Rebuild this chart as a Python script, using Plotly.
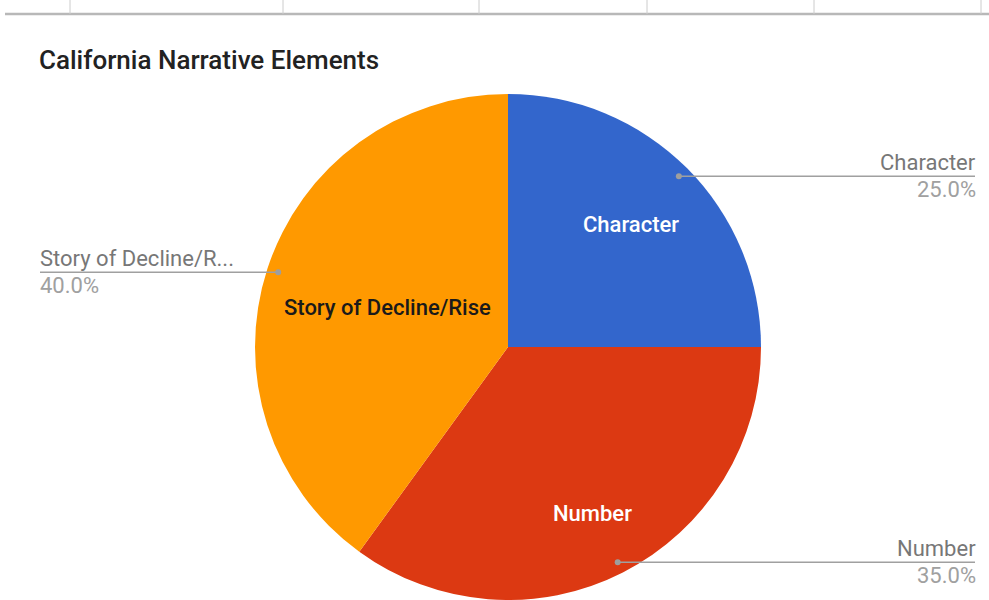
import math
import plotly.graph_objects as go

# ---- data ----
labels = ["Character", "Number", "Story of Decline/Rise"]
short_labels = ["Character", "Number", "Story of Decline/R..."]
values = [25, 35, 40]
colors = ["#3366cc", "#dc3912", "#ff9900"]
inside_text_colors = ["#ffffff", "#ffffff", "#1a1a1a"]
title = "California Narrative Elements"

W, H = 989, 600
CX, CY, R = 508, 347, 253  # pie centre / radius in pixels
FONT = "Roboto, Arial, sans-serif"
INSIDE_R = [0.685, 0.74, 0.50]  # radial position of inside labels (fraction of radius)

def px(x):
    return x / W

def py(y):
    return 1 - y / H

fig = go.Figure()
fig.add_trace(go.Pie(
    labels=labels,
    values=values,
    sort=False,
    direction="clockwise",
    rotation=0,
    marker=dict(colors=colors, line=dict(width=0)),
    textinfo="none",
    hoverinfo="label+percent",
    showlegend=False,
    domain=dict(x=[px(CX - R), px(CX + R)], y=[py(CY + R), py(CY - R)]),
))

shapes = []
annotations = []

# top border line with ticks
shapes.append(dict(type="line", xref="paper", yref="paper",
                   x0=px(5), x1=1, y0=py(14), y1=py(14),
                   line=dict(color="#b8b8b8", width=2.5)))
for tx in [70, 283, 479, 647, 814, 981]:
    shapes.append(dict(type="line", xref="paper", yref="paper",
                       x0=px(tx), x1=px(tx), y0=py(0), y1=py(14),
                       line=dict(color="#cccccc", width=1)))

# slice labels (inside) and outside labels with leader lines
total = sum(values)
start = 0.0
for i, (lab, short, v) in enumerate(zip(labels, short_labels, values)):
    frac = v / total
    mid = (start + frac / 2) * 2 * math.pi
    start += frac
    dx = math.sin(mid)
    dy = -math.cos(mid)

    # inside label
    ix = CX + INSIDE_R[i] * R * dx
    iy = CY + INSIDE_R[i] * R * dy
    annotations.append(dict(text=lab, xref="paper", yref="paper",
                            x=px(ix), y=py(iy), xanchor="center", yanchor="middle",
                            showarrow=False,
                            font=dict(family=FONT, size=22, weight=500,
                                      color=inside_text_colors[i])))

    # leader line + outside label
    dot_x = CX + 0.955 * R * dx
    dot_y = CY + 0.955 * R * dy
    right = dx >= 0
    end_x = 975 if right else 40
    shapes.append(dict(type="line", xref="paper", yref="paper",
                       x0=px(dot_x), x1=px(end_x), y0=py(dot_y), y1=py(dot_y),
                       line=dict(color="#a0a0a0", width=1.5)))
    shapes.append(dict(type="circle", xref="paper", yref="paper",
                       x0=px(dot_x - 3), x1=px(dot_x + 3),
                       y0=py(dot_y + 3), y1=py(dot_y - 3),
                       fillcolor="#9e9e9e", line=dict(width=0)))
    anchor = "right" if right else "left"
    text_x = end_x + 3 if right else end_x - 2
    annotations.append(dict(text=short, xref="paper", yref="paper",
                            x=px(text_x), y=py(dot_y + 1), xanchor=anchor, yanchor="bottom",
                            showarrow=False, font=dict(family=FONT, size=22, color="#777777")))
    annotations.append(dict(text=f"{frac*100:.1f}%", xref="paper", yref="paper",
                            x=px(text_x), y=py(dot_y - 1), xanchor=anchor, yanchor="top",
                            showarrow=False, font=dict(family=FONT, size=22, color="#a0a0a0")))

annotations.append(dict(text=title, xref="paper", yref="paper",
                        x=px(37), y=py(60), xanchor="left", yanchor="middle",
                        showarrow=False,
                        font=dict(family=FONT, size=26, weight=500, color="#222222")))

fig.update_layout(
    width=W, height=H,
    margin=dict(l=0, r=0, t=0, b=0),
    paper_bgcolor="#ffffff",
    plot_bgcolor="#ffffff",
    shapes=shapes,
    annotations=annotations,
)

fig.write_html("out.html", config={"displayModeBar": False},
               post_script="document.body.style.margin='0';")
